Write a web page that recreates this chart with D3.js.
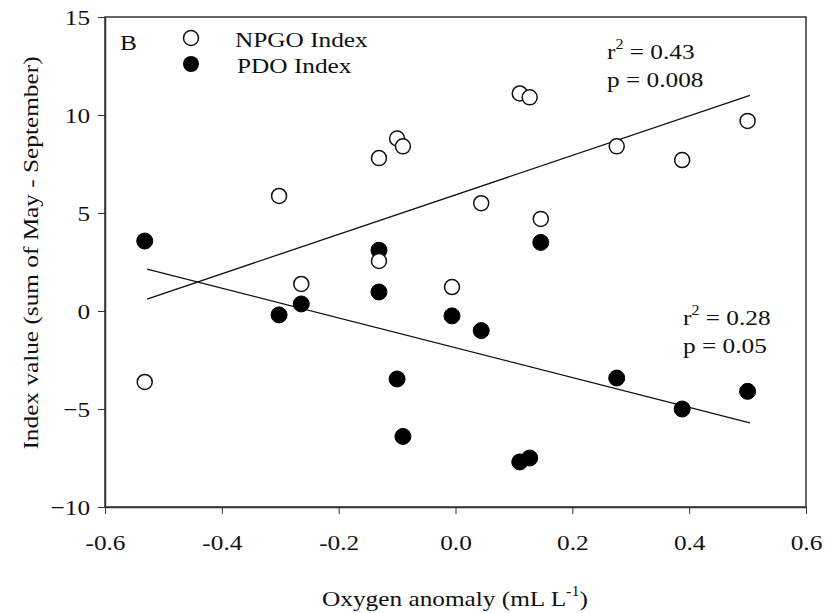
<!DOCTYPE html>
<html>
<head>
<meta charset="utf-8">
<script src="https://cdn.jsdelivr.net/npm/d3@7"></script>
<style>
  body { margin: 0; background: #fff; }
  text { font-family: "Liberation Serif", "Times New Roman", serif; fill: #111; }
</style>
</head>
<body>
<svg id="chart" width="833" height="613"></svg>
<script>
// oxygen anomaly per year, shared by both indices
const oxygen = [-0.532, -0.302, -0.264, -0.131, -0.131, -0.100, -0.090, -0.006, 0.044, 0.110, 0.127, 0.146, 0.276, 0.388, 0.500];
const npgo = [-3.62, 5.87, 1.38, 7.8, 2.55, 8.8, 8.4, 1.22, 5.5, 11.1, 10.9, 4.7, 8.4, 7.7, 9.7];
const pdo = [3.57, -0.2, 0.36, 3.1, 0.97, -3.47, -6.4, -0.25, -1.0, -7.7, -7.5, 3.5, -3.42, -5.0, -4.1];

const fitX = [-0.528, 0.504];
const npgoFit = [0.61, 11.0];
const pdoFit = [2.14, -5.71];

const xTicks = [-0.6, -0.4, -0.2, 0.0, 0.2, 0.4, 0.6];
const yTicks = [-10, -5, 0, 5, 10, 15];

const SX = 1.15; // the source font is wider than Times

const svg = d3.select('#chart');
const x = d3.scaleLinear().domain([-0.6, 0.6]).range([105, 806]);
const y = d3.scaleLinear().domain([-10, 15]).range([507, 17]);

// frame
svg.append('rect')
  .attr('x', x(-0.6)).attr('y', y(15))
  .attr('width', x(0.6) - x(-0.6)).attr('height', y(-10) - y(15))
  .attr('fill', 'none').attr('stroke', '#333').attr('stroke-width', 1.5);

const xAxis = svg.append('g')
  .attr('transform', `translate(0,${y(-10)})`)
  .call(d3.axisBottom(x).tickValues(xTicks).tickSize(7).tickSizeOuter(0).tickPadding(20)
    .tickFormat(d => d.toFixed(1)));
const yAxis = svg.append('g')
  .attr('transform', `translate(${x(-0.6)},0)`)
  .call(d3.axisLeft(y).tickValues(yTicks).tickSize(7).tickSizeOuter(0).tickPadding(6));

[xAxis, yAxis].forEach(g => {
  g.attr('color', '#333');
  g.select('.domain').attr('stroke-width', 1.5);
  g.selectAll('text').attr('font-size', 22).attr('font-family', '"Liberation Serif", serif').attr('fill', '#111');
});
xAxis.selectAll('text').attr('transform', `scale(${SX},1)`);
yAxis.selectAll('text').attr('x', -13).attr('transform', `scale(${SX},1)`);

// regression lines
const line = d3.line().x(d => x(d[0])).y(d => y(d[1]));
[npgoFit, pdoFit].forEach(fit => {
  svg.append('path')
    .datum(fitX.map((v, i) => [v, fit[i]]))
    .attr('d', line)
    .attr('fill', 'none').attr('stroke', '#111').attr('stroke-width', 1.3);
});

// points: PDO filled first, NPGO open on top
svg.append('g').selectAll('circle')
  .data(oxygen.map((v, i) => [v, pdo[i]]))
  .enter().append('circle')
  .attr('cx', d => x(d[0])).attr('cy', d => y(d[1])).attr('r', 8)
  .attr('fill', '#000').attr('stroke', '#000').attr('stroke-width', 1);
svg.append('g').selectAll('circle')
  .data(oxygen.map((v, i) => [v, npgo[i]]))
  .enter().append('circle')
  .attr('cx', d => x(d[0])).attr('cy', d => y(d[1])).attr('r', 7.5)
  .attr('fill', '#fff').attr('stroke', '#111').attr('stroke-width', 1.5);

// text helper, stretched horizontally like the source font
function label(px, py, rot) {
  return svg.append('text')
    .attr('transform', `translate(${px},${py})${rot ? ` rotate(${rot})` : ''} scale(${SX},1)`)
    .attr('font-size', 22);
}

// legend
svg.append('circle').attr('cx', 191).attr('cy', 38).attr('r', 7.5)
  .attr('fill', '#fff').attr('stroke', '#111').attr('stroke-width', 1.5);
svg.append('circle').attr('cx', 191).attr('cy', 64).attr('r', 8).attr('fill', '#000');
label(235, 47).text('NPGO Index');
label(237, 73).text('PDO Index');
label(120, 50).text('B');

// stats
function stats(px, py, r2, p) {
  const t = label(px, py);
  t.append('tspan').text('r');
  t.append('tspan').attr('font-size', 14).attr('dy', -10).text('2');
  t.append('tspan').attr('dy', 10).text(` = ${r2}`);
  label(px, py + 28).text(`p = ${p}`);
}
stats(607, 59, '0.43', '0.008');
stats(683, 325, '0.28', '0.05');

// axis titles
const xt = label(455, 606).attr('text-anchor', 'middle');
xt.append('tspan').text('Oxygen anomaly (mL L');
xt.append('tspan').attr('font-size', 14).attr('dy', -10).text('-1');
xt.append('tspan').attr('dy', 10).text(')');
label(38, 253, -90).attr('text-anchor', 'middle').text('Index value (sum of May - September)');
</script>
</body>
</html>
